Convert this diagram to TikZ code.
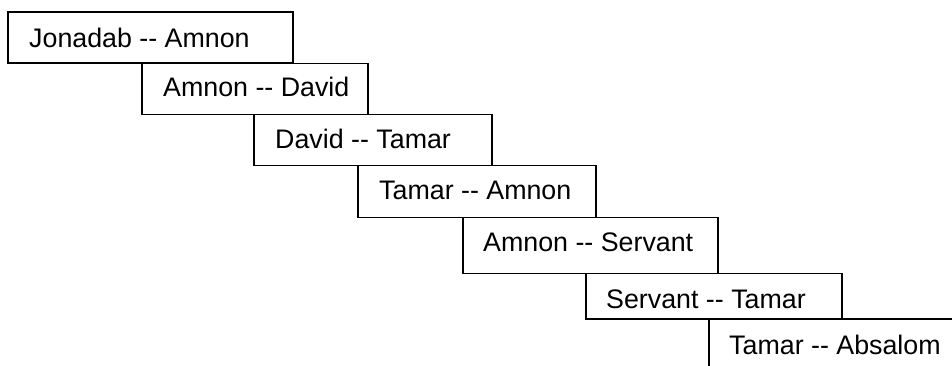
\documentclass[tikz,border=0pt]{standalone}
\usepackage{fontspec}
\setmainfont{Liberation Sans}
% two plain hyphens, kept apart so they do not join into a dash
\newcommand{\dd}{-\kern0pt-}
\begin{document}
\begin{tikzpicture}[x=1pt,y=-1pt,
  stepbox/.style={draw=black, fill=white, line width=1.3pt},
  lbl/.style={inner sep=0pt, anchor=base west, font=\fontsize{26.8}{30}\selectfont}]
\useasboundingbox (0,0) rectangle (952,366);
\clip (0,0) rectangle (952,366);
% staircase of overlapping boxes, each drawn over the previous one
\draw[stepbox] (8,12) rectangle (293,63);
\node[lbl] (t1) at (29,47.5) {Jonadab \dd{} Amnon};
\draw[stepbox] (142,63.5) rectangle (368,114.5);
\node[lbl] (t2) at (163,96.5) {Amnon \dd{} David};
\draw[stepbox] (254,114.5) rectangle (492,165.5);
\node[lbl] (t3) at (275,148.5) {David \dd{} Tamar};
\draw[stepbox] (358,165.5) rectangle (596,217.5);
\node[lbl] (t4) at (379,199.5) {Tamar \dd{} Amnon};
\draw[stepbox] (463,217.5) rectangle (718,273.5);
\node[lbl] (t5) at (483,251.5) {Amnon \dd{} Servant};
\draw[stepbox] (586,273.5) rectangle (842,319);
\node[lbl] (t6) at (606,308) {Servant \dd{} Tamar};
\draw[stepbox] (709,319) rectangle (970,380);
\node[lbl] (t7) at (729,354.5) {Tamar \dd{} Absalom};
\end{tikzpicture}
\end{document}
